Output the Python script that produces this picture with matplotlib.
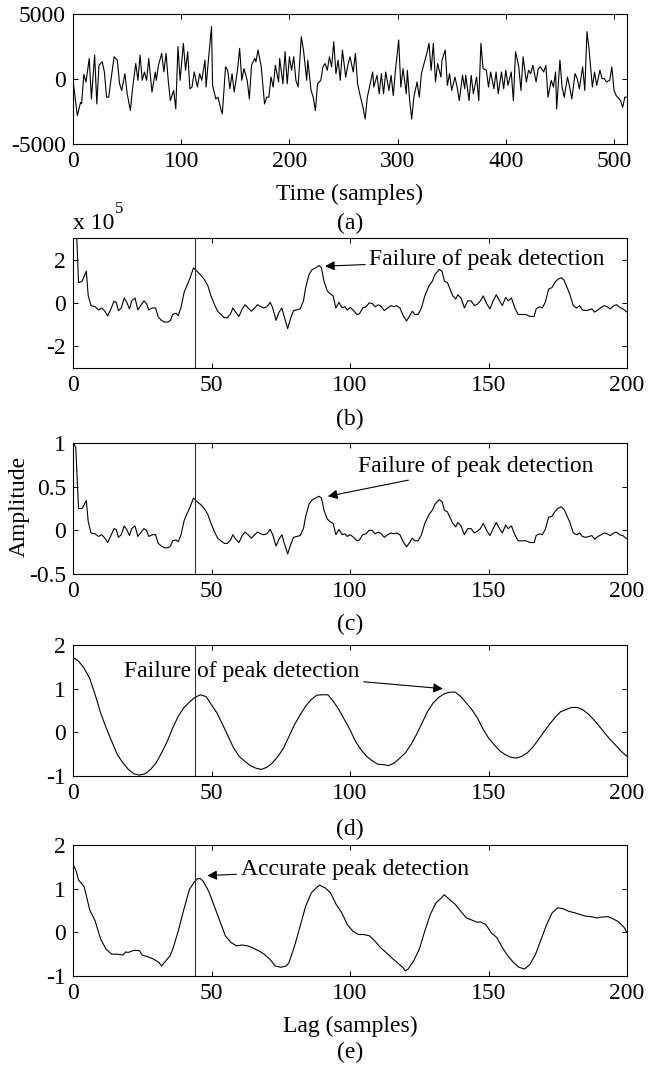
import numpy as np
import matplotlib
matplotlib.use('Agg')
import matplotlib.pyplot as plt

# ---- data ----
# (a) time signal
a_t = [0, 4, 7, 8, 10, 12, 15, 17, 20, 22,
       24, 27, 29, 31, 33, 35, 38, 41, 43, 45,
       48, 50, 53, 55, 58, 60, 62, 64, 66, 68,
       70, 73, 76, 77, 79, 82, 84, 86, 88, 90,
       93, 95, 97, 99, 102, 104, 106, 108, 110, 112,
       115, 117, 119, 122, 123, 125, 128, 129, 132, 134,
       137, 138, 141, 143, 145, 147, 149, 152, 154, 156,
       158, 161, 163, 165, 168, 169, 171, 174, 177, 179,
       181, 183, 185, 187, 190, 191, 194, 196, 198, 200,
       202, 204, 206, 208, 211, 213, 216, 217, 220, 222,
       224, 226, 229, 231, 233, 235, 237, 239, 241, 243,
       245, 247, 249, 252, 254, 256, 259, 261, 263, 265,
       268, 270, 272, 275, 277, 278, 281, 283, 285, 287,
       289, 292, 294, 296, 298, 301, 303, 305, 308, 309,
       311, 313, 315, 318, 320, 322, 324, 327, 329, 331,
       333, 335, 337, 340, 341, 344, 346, 348, 350, 353,
       355, 357, 360, 362, 363, 366, 368, 370, 373, 375,
       377, 379, 382, 384, 386, 389, 391, 393, 396, 398,
       400, 402, 405, 407, 409, 412, 414, 416, 419, 421,
       423, 425, 428, 430, 432, 435, 437, 439, 442, 444,
       446, 447, 450, 452, 454, 457, 459, 461, 464, 466,
       468, 471, 473, 475, 477, 480, 482, 484, 487, 489,
       491, 493, 496, 498, 500, 502, 506, 508, 510, 512]
a_val = [-100, -2820, -1790, -1900, 360, -230, 1580, -1530, 1840, -1920,
         1060, 1320, 540, -1400, -1400, -100, 1710, 1450, -360, -880,
         410, -1090, -2430, -750, 1190, -100, 1840, -100, 540, -100,
         1580, -1010, 540, -100, 1060, 1970, 540, 1970, -100, -1660,
         -880, -2300, 2490, -100, 2750, 670, 2100, -750, -620, 540,
         -620, 410, -100, 1450, -620, 1320, 4040, -490, -1530, -1400,
         -2430, -2690, 930, 670, -750, 410, -1010, 670, 2360, -100,
         800, -100, -1530, 1060, 1580, 1320, 2230, 930, -1920, -1400,
         -1400, 150, -620, 1060, -230, 1580, -360, 2100, -360, 1710,
         670, 1710, -100, -620, 3260, 2230, -100, 1450, -880, -1400,
         -2430, -360, -100, 930, 1190, 670, 1710, 930, 2870, 410,
         1450, -100, 2230, 150, 1060, 1710, 540, 1970, -360, -1140,
         -2180, -3080, -1400, -230, 540, -620, 280, -1140, 410, -1140,
         540, -880, 280, -1270, 670, 3000, -620, 800, -1140, 670,
         -1530, -3080, -1400, -230, -1400, 410, 1060, 1970, 2750, 670,
         2750, -230, 1190, 150, 1450, 2230, -490, 410, -880, 150,
         -620, -1660, 280, -750, 280, -1660, 280, -1140, 150, -1660,
         2750, 800, 670, -620, 540, -750, 540, -1140, 540, -750,
         670, -490, 540, -1660, 2100, 930, -880, 1710, -230, 670,
         410, 1060, -230, 800, 930, 540, 1060, -1400, -100, -620,
         540, -2300, 1450, -620, -1400, 150, -620, -1530, 410, 30,
         -750, 930, -880, 3650, 2230, -620, 540, -490, 670, 30,
         30, -230, -100, 930, -880, -1270, -1660, -2180, -1400, -1400]

# (b) and (c) share the lag positions
bc_lag = [0, 1, 2, 3.3, 4.8, 5.5, 6.5, 8, 9.2, 10.4,
          11.5, 12.5, 13.7, 14.8, 15.6, 16.4, 17.4, 18.5, 19.4, 20.4,
          21.2, 22.4, 23.4, 24.4, 25.6, 26.5, 27.4, 28.6, 29.8, 30.8,
          31.9, 33, 34.3, 35.2, 36, 37.1, 38, 39, 40.1, 41.3,
          42.3, 43.5, 44.7, 45.9, 47.4, 48.7, 49.8, 51, 52.2, 53.4,
          54.7, 55.7, 56.9, 57.7, 58.7, 59.9, 61.1, 62.1, 63.2, 64.4,
          65.6, 66.6, 67.8, 68.9, 70, 71.2, 72.1, 73.3, 74.4, 75.4,
          76.3, 77.5, 78.5, 79.6, 80.8, 82, 83.2, 84, 85.2, 86.4,
          87.6, 88.8, 89.7, 90.6, 91.8, 92.7, 93.9, 94.9, 96, 97.2,
          98.1, 99, 100.1, 101.3, 102.5, 103.4, 104.6, 105.8, 106.9, 108,
          109.1, 110.3, 111.3, 112.4, 113.6, 114.8, 115.8, 116.8, 118, 119.2,
          120.4, 121.3, 122.5, 123.4, 124.6, 125.8, 127, 128.5, 129.7, 130.7,
          132.2, 133.2, 134.1, 135.2, 135.9, 137.1, 138.2, 138.9, 140.1, 141.3,
          142.5, 143.7, 144.9, 146, 147.1, 148.1, 149.3, 150.5, 151.7, 152.8,
          153.8, 155, 156.2, 157.1, 158.3, 159.5, 160.7, 162, 163.5, 165,
          166.5, 167.2, 168.4, 169.4, 170.5, 171.7, 172.9, 173.9, 175, 176.2,
          177.3, 178.4, 179.4, 180.6, 181.8, 182.9, 183.9, 185.1, 186.3, 187.3,
          188.3, 189.5, 190.7, 191.8, 192.8, 194, 195.2, 196.3, 197.3, 198.5,
          200]
b_val = [4.4, 4.2, 0.94, 1.0, 1.47, 0.33, -0.12, -0.17, -0.32, -0.23,
         -0.38, -0.6, -0.27, 0.08, 0.03, -0.35, -0.23, 0.23, 0.03, -0.27,
         0.1, 0.23, -0.32, -0.12, 0.1, -0.02, -0.32, -0.23, -0.23, -0.65,
         -0.8, -0.88, -0.88, -0.8, -0.53, -0.47, -0.58, -0.2, 0.48, 0.86,
         1.17, 1.62, 1.47, 1.32, 1.09, 0.79, 0.33, -0.05, -0.38, -0.53,
         -0.68, -0.68, -0.5, -0.23, -0.42, -0.62, -0.27, -0.08, -0.23, -0.38,
         -0.23, -0.08, -0.17, -0.23, -0.17, 0.03, -0.23, -0.8, -0.42, -0.23,
         -0.65, -1.18, -0.73, -0.35, -0.32, -0.27, 0.1, 0.71, 1.32, 1.55,
         1.62, 1.73, 1.62, 1.0, 0.56, 0.44, 0.33, -0.23, 0.03, -0.23,
         -0.17, -0.32, -0.2, -0.35, -0.53, -0.5, -0.23, -0.17, 0.0, -0.02,
         -0.17, -0.08, -0.17, -0.35, -0.23, -0.12, -0.17, -0.12, -0.23, -0.58,
         -0.83, -0.65, -0.38, -0.53, -0.53, -0.23, 0.33, 0.79, 1.0, 1.32,
         1.55, 1.47, 1.0, 0.94, 0.71, 0.33, 0.18, 0.38, 0.23, -0.23,
         0.1, 0.1, -0.12, -0.05, 0.1, 0.33, -0.02, -0.27, 0.1, 0.38,
         0.14, -0.12, 0.26, 0.1, 0.23, -0.23, -0.53, -0.53, -0.53, -0.62,
         -0.62, -0.27, -0.17, -0.23, 0.03, 0.64, 0.71, 0.94, 1.09, 1.17,
         1.05, 0.71, 0.38, -0.12, -0.23, -0.12, -0.32, -0.35, -0.32, -0.27,
         -0.42, -0.32, -0.2, -0.12, -0.17, -0.27, -0.12, -0.08, -0.2, -0.27,
         -0.42]
c_val = [1.0, 0.95, 0.25, 0.25, 0.34, 0.1, -0.03, -0.04, -0.07, -0.05,
         -0.09, -0.14, -0.06, 0.02, 0.01, -0.08, -0.05, 0.05, 0.01, -0.06,
         0.02, 0.05, -0.07, -0.03, 0.02, 0.0, -0.07, -0.05, -0.05, -0.15,
         -0.18, -0.2, -0.2, -0.18, -0.12, -0.11, -0.13, -0.05, 0.11, 0.2,
         0.27, 0.37, 0.33, 0.3, 0.25, 0.18, 0.08, -0.01, -0.09, -0.12,
         -0.15, -0.15, -0.11, -0.05, -0.1, -0.14, -0.06, -0.02, -0.05, -0.09,
         -0.05, -0.02, -0.04, -0.05, -0.04, 0.01, -0.05, -0.18, -0.1, -0.05,
         -0.15, -0.27, -0.17, -0.08, -0.07, -0.06, 0.02, 0.16, 0.3, 0.35,
         0.37, 0.39, 0.37, 0.23, 0.13, 0.1, 0.08, -0.05, 0.01, -0.05,
         -0.04, -0.07, -0.05, -0.08, -0.12, -0.11, -0.05, -0.04, 0.0, 0.0,
         -0.04, -0.02, -0.04, -0.08, -0.05, -0.03, -0.04, -0.03, -0.05, -0.13,
         -0.19, -0.15, -0.09, -0.12, -0.12, -0.05, 0.08, 0.18, 0.23, 0.3,
         0.35, 0.33, 0.23, 0.21, 0.16, 0.08, 0.04, 0.09, 0.05, -0.05,
         0.02, 0.02, -0.03, -0.01, 0.02, 0.08, 0.0, -0.06, 0.02, 0.09,
         0.03, -0.03, 0.06, 0.02, 0.05, -0.05, -0.12, -0.12, -0.12, -0.14,
         -0.14, -0.06, -0.04, -0.05, 0.01, 0.15, 0.16, 0.21, 0.25, 0.27,
         0.24, 0.16, 0.09, -0.03, -0.05, -0.03, -0.07, -0.08, -0.07, -0.06,
         -0.1, -0.07, -0.05, -0.03, -0.04, -0.06, -0.03, -0.02, -0.05, -0.06,
         -0.1]

# (d) every second lag, 0..200
d_lag = np.arange(0, 201, 2)
d_val = [1.72, 1.63, 1.47, 1.24, 0.86, 0.44, 0.10, -0.21, -0.51, -0.70,
         -0.85, -0.95, -0.98, -0.95, -0.85, -0.70, -0.47, -0.21, 0.10, 0.37,
         0.56, 0.69, 0.80, 0.86, 0.82, 0.63, 0.44, 0.18, -0.09, -0.36,
         -0.55, -0.66, -0.76, -0.82, -0.85, -0.80, -0.70, -0.55, -0.36, -0.09,
         0.18, 0.40, 0.60, 0.75, 0.85, 0.86, 0.86, 0.71, 0.52, 0.29,
         0.06, -0.21, -0.40, -0.55, -0.65, -0.73, -0.74, -0.76, -0.70, -0.59,
         -0.47, -0.28, -0.05, 0.21, 0.48, 0.67, 0.80, 0.88, 0.92, 0.92,
         0.82, 0.67, 0.52, 0.33, 0.08, -0.13, -0.28, -0.42, -0.51, -0.57,
         -0.59, -0.55, -0.47, -0.34, -0.17, 0.01, 0.18, 0.34, 0.47, 0.52,
         0.57, 0.57, 0.52, 0.42, 0.29, 0.14, -0.02, -0.17, -0.30, -0.44,
         -0.55]

# (e)
e_lag = [0, 1, 2, 4, 5, 6, 8, 10, 12, 14,
         16, 18, 19, 20, 22, 24, 25, 27, 29, 31,
         32, 33, 35, 36, 38, 40, 42, 44, 45, 46,
         47, 49, 51, 53, 55, 57, 59, 61, 63, 65,
         67, 69, 71, 73, 75, 77, 78, 80, 82, 84,
         86, 88, 89, 91, 93, 95, 97, 99, 101, 103,
         105, 107, 109, 111, 113, 115, 117, 119, 120, 121,
         123, 125, 127, 129, 131, 133, 134, 136, 138, 140,
         142, 144, 146, 147, 149, 151, 153, 155, 157, 159,
         161, 163, 165, 167, 169, 171, 173, 175, 177, 179,
         181, 183, 185, 187, 189, 191, 193, 195, 197, 199,
         200]
e_val = [1.55, 1.43, 1.20, 1.05, 0.79, 0.52, 0.26, -0.16, -0.39, -0.50,
         -0.50, -0.52, -0.45, -0.46, -0.41, -0.42, -0.52, -0.56, -0.61, -0.69,
         -0.77, -0.69, -0.54, -0.39, 0.03, 0.52, 0.98, 1.17, 1.23, 1.23,
         1.17, 0.94, 0.60, 0.26, -0.08, -0.23, -0.31, -0.29, -0.31, -0.36,
         -0.42, -0.50, -0.61, -0.77, -0.80, -0.77, -0.69, -0.31, 0.14, 0.60,
         0.90, 1.03, 1.08, 1.02, 0.90, 0.64, 0.45, 0.18, 0.03, -0.05,
         -0.05, -0.08, -0.20, -0.35, -0.46, -0.58, -0.69, -0.80, -0.88, -0.84,
         -0.65, -0.39, 0.03, 0.41, 0.67, 0.79, 0.86, 0.75, 0.64, 0.48,
         0.33, 0.28, 0.23, 0.24, 0.18, -0.01, -0.12, -0.35, -0.54, -0.69,
         -0.80, -0.84, -0.73, -0.50, -0.16, 0.18, 0.45, 0.56, 0.54, 0.48,
         0.45, 0.41, 0.37, 0.36, 0.33, 0.35, 0.36, 0.31, 0.24, 0.11,
         -0.01]

peak_lag = 44

plt.rcParams['font.family'] = ['Liberation Serif', 'DejaVu Serif']
plt.rcParams['axes.unicode_minus'] = False
plt.rcParams['font.size'] = 17

W, H = 648, 1066
fig = plt.figure(figsize=(W / 100, H / 100), dpi=100)

X0, X1 = 73, 627  # axes left / right edge in pixels


def box(top, bottom):
    return [X0 / W, 1 - bottom / H, (X1 - X0) / W, (bottom - top) / H]


def style(ax):
    ax.tick_params(direction='in', top=True, right=True, length=3.6,
                   width=0.7, pad=5, labelsize=17)
    for s in ax.spines.values():
        s.set_linewidth(0.8)


arrow = dict(arrowstyle='-|>', color='black', lw=0.8, mutation_scale=14,
             shrinkA=1, shrinkB=0)

# (a)
ax = fig.add_axes(box(14, 144))
ax.plot(a_t, a_val, color='black', lw=0.8)
ax.set_xlim(0, 512)
ax.set_ylim(-5000, 5000)
ax.set_xticks([0, 100, 200, 300, 400, 500])
ax.set_yticks([-5000, 0, 5000])
style(ax)

# (b)
ax = fig.add_axes(box(238, 368))
ax.plot(bc_lag, b_val, color='black', lw=0.8)
ax.axvline(peak_lag, color='#333333', lw=0.8)
ax.set_xlim(0, 200)
ax.set_ylim(-3, 3)
ax.set_xticks([0, 50, 100, 150, 200])
ax.set_yticks([-2, 0, 2])
style(ax)
ax.annotate('Failure of peak detection', xy=(91, 1.7), xytext=(107, 2.0),
            ha='left', va='center', fontsize=17, arrowprops=arrow)

# (c)
ax = fig.add_axes(box(443, 574))
ax.plot(bc_lag, c_val, color='black', lw=0.8)
ax.axvline(peak_lag, color='#333333', lw=0.8)
ax.set_xlim(0, 200)
ax.set_ylim(-0.5, 1)
ax.set_xticks([0, 50, 100, 150, 200])
ax.set_yticks([-0.5, 0, 0.5, 1])
ax.set_yticklabels(['-0.5', '0', '0.5', '1'])
style(ax)
ax.annotate('Failure of peak detection', xy=(92, 0.39), xytext=(103, 0.73),
            ha='left', va='center', fontsize=17, arrowprops=arrow)

# (d)
ax = fig.add_axes(box(645, 776))
ax.plot(d_lag, d_val, color='black', lw=0.8)
ax.axvline(peak_lag, color='#333333', lw=0.8)
ax.set_xlim(0, 200)
ax.set_ylim(-1, 2)
ax.set_xticks([0, 50, 100, 150, 200])
ax.set_yticks([-1, 0, 1, 2])
style(ax)
ax.annotate('Failure of peak detection', xy=(133.5, 1.0), xytext=(18.5, 1.4),
            ha='left', va='center', fontsize=17, arrowprops=arrow)

# (e)
ax = fig.add_axes(box(845, 976))
ax.plot(e_lag, e_val, color='black', lw=0.8)
ax.axvline(peak_lag, color='#333333', lw=0.8)
ax.set_xlim(0, 200)
ax.set_ylim(-1, 2)
ax.set_xticks([0, 50, 100, 150, 200])
ax.set_yticks([-1, 0, 1, 2])
style(ax)
ax.annotate('Accurate peak detection', xy=(48.5, 1.3), xytext=(60.5, 1.45),
            ha='left', va='center', fontsize=17, arrowprops=arrow)

# labels
cx = (X0 + X1) / 2 / W
fig.text(cx, 1 - 194 / H, 'Time (samples)', ha='center', va='center')
fig.text(cx, 1 - 223 / H, '(a)', ha='center', va='center')
fig.text(X0 / W, 1 - 229 / H, 'x 10', ha='left', va='baseline')
fig.text(115 / W, 1 - 213 / H, '5', ha='left', va='baseline', fontsize=12)
fig.text(cx, 1 - 419 / H, '(b)', ha='center', va='center')
fig.text(19 / W, 1 - 506 / H, 'Amplitude', ha='center', va='center',
         rotation=90)
fig.text(cx, 1 - 624 / H, '(c)', ha='center', va='center')
fig.text(cx, 1 - 829 / H, '(d)', ha='center', va='center')
fig.text(cx, 1 - 1026 / H, 'Lag (samples)', ha='center', va='center')
fig.text(cx, 1 - 1052 / H, '(e)', ha='center', va='center')

fig.savefig('out.png', dpi=100)
